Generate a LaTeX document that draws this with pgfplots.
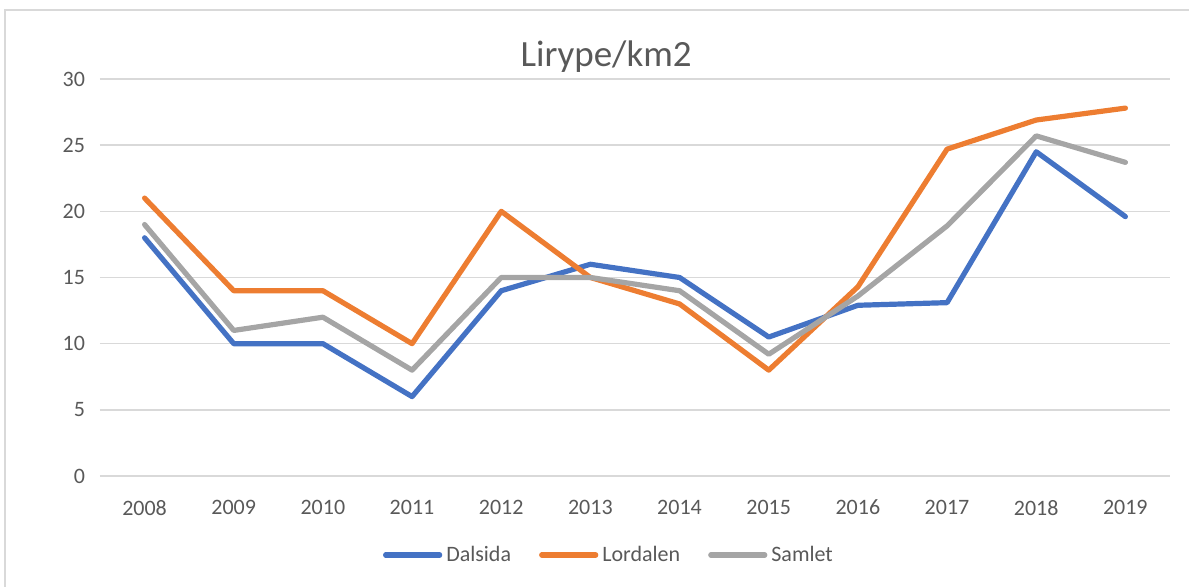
\documentclass[border=0pt]{standalone}
\usepackage{pgfplots}
\pgfplotsset{compat=1.18}
\usepackage{fontspec}
\setmainfont{Carlito}
\definecolor{cblue}{HTML}{4472C4}
\definecolor{corange}{HTML}{ED7D31}
\definecolor{cgray}{HTML}{A5A5A5}
\definecolor{ctext}{HTML}{595959}
\definecolor{cgrid}{HTML}{D9D9D9}
\begin{document}
\begin{tikzpicture}
\useasboundingbox (0,0) rectangle (594.5pt,-293.5pt);
\draw[cgrid, line width=0.6pt] (2.5pt,-310pt) -- (2.5pt,-5pt) -- (610pt,-5pt);
\begin{axis}[
  at={(50pt,-238pt)}, anchor=south west,
  scale only axis, width=535pt, height=198.5pt,
  xmin=2007.5, xmax=2019.5, ymin=0, ymax=30,
  xtick={2008,...,2019}, ytick={0,5,...,30},
  /pgf/number format/1000 sep={},
  /pgf/number format/assume math mode=true,
  axis line style={draw=none}, tick style={draw=none},
  ymajorgrids, grid style={cgrid, line width=0.8pt},
  ticklabel style={font=\fontsize{11}{13}\selectfont, text=ctext},
  xticklabel style={yshift=-8.5pt},
  yticklabel style={xshift=-4pt},
  title={Lirype/km2},
  title style={at={(axis description cs:0.473,1.025)}, anchor=center, font=\fontsize{18.5}{22}\selectfont, text=ctext},
  legend columns=3,
  legend style={at={(axis description cs:0.4766,-0.199)}, anchor=center, draw=none, fill=none,
    font=\fontsize{11}{13}\selectfont, text=ctext,
    /tikz/every even column/.append style={column sep=12pt}},
  legend image code/.code={\draw[#1, line cap=round] (0pt,0pt) -- (27pt,0pt);},
  every axis plot/.append style={line width=2.6pt, line cap=round, line join=round, mark=none},
]
\addplot[cblue] coordinates {(2008,18) (2009,10) (2010,10) (2011,6) (2012,14) (2013,16) (2014,15) (2015,10.5) (2016,12.9) (2017,13.1) (2018,24.5) (2019,19.6)};
\addlegendentry{Dalsida}
\addplot[corange] coordinates {(2008,21) (2009,14) (2010,14) (2011,10) (2012,20) (2013,15) (2014,13) (2015,8) (2016,14.3) (2017,24.7) (2018,26.9) (2019,27.8)};
\addlegendentry{Lordalen}
\addplot[cgray] coordinates {(2008,19) (2009,11) (2010,12) (2011,8) (2012,15) (2013,15) (2014,14) (2015,9.2) (2016,13.6) (2017,18.9) (2018,25.7) (2019,23.7)};
\addlegendentry{Samlet}
\end{axis}
\end{tikzpicture}
\end{document}
